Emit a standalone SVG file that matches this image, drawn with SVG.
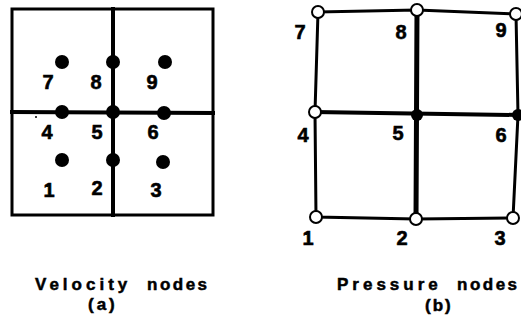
<svg xmlns="http://www.w3.org/2000/svg" width="521" height="331" viewBox="0 0 521 331">
<style>
.lbl{font-family:"Liberation Sans",Arial,sans-serif;font-weight:bold;font-size:20px;fill:#000;stroke:#000;stroke-width:0.6;text-anchor:middle}
.cap{font-family:"Liberation Sans",Arial,sans-serif;font-weight:bold;font-size:17px;fill:#000;stroke:#000;stroke-width:0.5}
.ln{stroke:#000;fill:none;stroke-linecap:square}
.dot{fill:#000}
.open{fill:#fff;stroke:#000;stroke-width:2}
</style>
<rect width="521" height="331" fill="#fff"/>
<g id="connectors">
<rect class="ln" x="12" y="9" width="201" height="206" stroke-width="3"/>
<line class="ln" x1="113" y1="9" x2="113" y2="215" stroke-width="4"/>
<line class="ln" x1="12" y1="112" x2="213" y2="113" stroke-width="4"/>
<polyline class="ln" points="318,12 417,10 516,14 518,115 513,218 416,219 316,217 315,112 318,12" stroke-width="3"/>
<line class="ln" x1="417" y1="10" x2="416" y2="219" stroke-width="5"/>
<line class="ln" x1="315" y1="112" x2="518" y2="115" stroke-width="4"/>
</g>
<g id="velocity-nodes">
<g id="v7"><circle class="dot" cx="62" cy="62" r="7"/><text class="lbl" x="48" y="89">7</text></g>
<g id="v8"><circle class="dot" cx="113" cy="62" r="7"/><text class="lbl" x="96" y="89">8</text></g>
<g id="v9"><circle class="dot" cx="165" cy="62" r="7"/><text class="lbl" x="152" y="89">9</text></g>
<g id="v4"><circle class="dot" cx="62" cy="112" r="7"/><text class="lbl" x="47" y="139">4</text></g>
<g id="v5"><circle class="dot" cx="113" cy="112" r="7"/><text class="lbl" x="97" y="139">5</text></g>
<g id="v6"><circle class="dot" cx="164" cy="113" r="7"/><text class="lbl" x="153" y="139">6</text></g>
<g id="v1"><circle class="dot" cx="62" cy="160" r="7"/><text class="lbl" x="49" y="197">1</text></g>
<g id="v2"><circle class="dot" cx="113" cy="160" r="7"/><text class="lbl" x="97" y="195">2</text></g>
<g id="v3"><circle class="dot" cx="163" cy="162" r="7"/><text class="lbl" x="156" y="197">3</text></g>
<circle class="dot" cx="36" cy="117" r="1"/>
</g>
<g id="pressure-nodes">
<g id="p7"><circle class="open" cx="318" cy="12" r="6"/><text class="lbl" x="300" y="39">7</text></g>
<g id="p8"><circle class="open" cx="417" cy="10" r="6"/><text class="lbl" x="401" y="39">8</text></g>
<g id="p9"><circle class="open" cx="516" cy="14" r="6"/><text class="lbl" x="501" y="37">9</text></g>
<g id="p4"><circle class="open" cx="315" cy="112" r="6"/><text class="lbl" x="303" y="142">4</text></g>
<g id="p5"><circle class="dot" cx="417" cy="115" r="6"/><text class="lbl" x="398" y="140">5</text></g>
<g id="p6"><circle class="dot" cx="518" cy="115" r="6"/><text class="lbl" x="501" y="142">6</text></g>
<g id="p1"><circle class="open" cx="316" cy="217" r="6"/><text class="lbl" x="308" y="245">1</text></g>
<g id="p2"><circle class="open" cx="416" cy="219" r="6"/><text class="lbl" x="402" y="245">2</text></g>
<g id="p3"><circle class="open" cx="513" cy="218" r="6"/><text class="lbl" x="500" y="245">3</text></g>
</g>
<g id="captions">
<text class="cap" y="290"><tspan x="35" letter-spacing="4">Velocity</tspan> <tspan x="147" letter-spacing="2.5">nodes</tspan></text>
<text class="cap" x="88" y="310" letter-spacing="3">(a)</text>
<text class="cap" y="290"><tspan x="337" letter-spacing="4">Pressure</tspan> <tspan x="457" letter-spacing="2.5">nodes</tspan></text>
<text class="cap" x="425" y="311" letter-spacing="2">(b)</text>
</g>
</svg>
